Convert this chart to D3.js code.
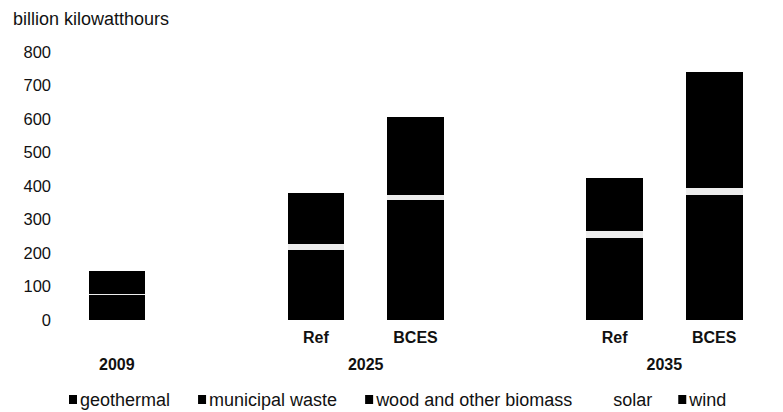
<!DOCTYPE html>
<html lang="en">
  <head>
    <meta charset="UTF-8">
    <title>Renewable generation</title>
    <style>
      html,body{
        background-color: #fff;
        margin: 0;
        padding: 0;
      }
      svg text{
        font-family: "Liberation Sans", Arial, sans-serif;
        fill: #111;
      }
    </style>
  </head>
  <body>
    <div id="chart"></div>
    <script src="https://d3js.org/d3.v7.min.js"></script>
    <script>
      // bars: year + case
      var years = ["2009", "2025", "2025", "2035", "2035"];
      var cases = ["", "Ref", "BCES", "Ref", "BCES"];
      var series = ["geothermal", "municipal waste", "wood and other biomass", "solar", "wind"];
      // billion kWh
      var geothermal = [15, 25, 28, 33, 40];
      var municipalWaste = [17, 17, 17, 17, 17];
      var woodBiomass = [43, 166, 313, 195, 315];
      var solar = [3, 20, 14, 20, 22];
      var wind = [68, 152, 234, 160, 347];
      var yTicks = [0, 100, 200, 300, 400, 500, 600, 700, 800];
      var colors = ["#000", "#000", "#000", "#ececec", "#000"];

      var W = 783, H = 412;
      var svg = d3.select("#chart").append("svg")
        .attr("width", W)
        .attr("height", H);

      // one slot per bar, plus empty slots between the years
      var slots = ["b0", "gap1", "b1", "b2", "gap2", "b3", "b4"];
      var barKey = ["b0", "b1", "b2", "b3", "b4"];

      var x = d3.scaleBand()
        .domain(slots)
        .range([88.5, 742.5])
        .paddingInner(0.43)
        .paddingOuter(0);

      var y = d3.scaleLinear()
        .domain([0, 800])
        .range([320, 52]);

      var rows = barKey.map(function(k, i){
        return {
          key: k,
          "geothermal": geothermal[i],
          "municipal waste": municipalWaste[i],
          "wood and other biomass": woodBiomass[i],
          "solar": solar[i],
          "wind": wind[i]
        };
      });
      var stacked = d3.stack().keys(series)(rows);

      // title
      svg.append("text")
        .attr("x", 13)
        .attr("y", 25)
        .style("font-size", "18px")
        .text("billion kilowatthours");

      // y axis, labels only
      var yAxis = d3.axisLeft(y).tickValues(yTicks).tickSize(0).tickPadding(0);
      var gy = svg.append("g")
        .attr("transform", "translate(51,0)")
        .call(yAxis);
      gy.select(".domain").remove();
      gy.selectAll("text")
        .style("font-size", "16.5px")
        .style("font-family", "'Liberation Sans', Arial, sans-serif")
        .attr("fill", "#111");

      // bars
      svg.append("g").selectAll("g")
        .data(stacked)
        .join("g")
          .attr("fill", function(d, i){ return colors[i]; })
        .selectAll("rect")
        .data(function(d){ return d; })
        .join("rect")
          .attr("x", function(d){ return x(d.data.key); })
          .attr("width", x.bandwidth())
          .attr("y", function(d){ return y(d[1]); })
          .attr("height", function(d){ return y(d[0]) - y(d[1]); })
          .attr("shape-rendering", "crispEdges");

      // case labels
      svg.append("g").selectAll("text")
        .data(barKey)
        .join("text")
          .attr("x", function(k){ return x(k) + x.bandwidth() / 2; })
          .attr("y", 343)
          .attr("text-anchor", "middle")
          .style("font-size", "16px")
          .style("font-weight", "bold")
          .text(function(k, i){ return cases[i]; });

      // year labels, centred under their bars
      var yearList = Array.from(new Set(years));
      svg.append("g").selectAll("text")
        .data(yearList)
        .join("text")
          .attr("x", function(yr){
            var ks = barKey.filter(function(k, i){ return years[i] === yr; });
            var xs = ks.map(function(k){ return x(k) + x.bandwidth() / 2; });
            return d3.mean(xs);
          })
          .attr("y", 370)
          .attr("text-anchor", "middle")
          .style("font-size", "16px")
          .style("font-weight", "bold")
          .text(function(yr){ return yr; });

      // legend
      var legend = svg.append("g");
      var lx = 69;
      series.forEach(function(s, i){
        var item = legend.append("g").attr("transform", "translate(" + lx + ",0)");
        item.append("rect")
          .attr("x", 0)
          .attr("y", 395)
          .attr("width", 8)
          .attr("height", 9)
          .attr("fill", colors[i] === "#ececec" ? "#fff" : colors[i]);
        var t = item.append("text")
          .attr("x", i === 3 ? 13 : 11)
          .attr("y", 406)
          .style("font-size", "18px")
          .text(s);
        lx += 11 + t.node().getComputedTextLength() + 28;
      });
    </script>
  </body>
</html>
